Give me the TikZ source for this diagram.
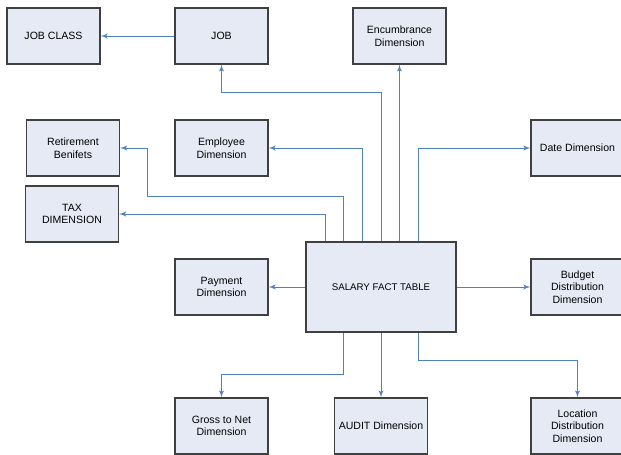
\documentclass[tikz,border=0pt]{standalone}
\usepackage{fontspec}
\setmainfont{Liberation Sans}
\usepackage{tikz}
\usetikzlibrary{arrows,shapes,calc}
\definecolor{boxfill}{RGB}{229,234,245}
\definecolor{boxline}{RGB}{64,64,64}
\definecolor{linkblue}{RGB}{79,129,189}
\begin{document}
\begin{tikzpicture}[x=0.025cm,y=-0.025cm]
	
	\tikzset{dimbox/.style = {shape=rectangle,draw=boxline,fill=boxfill,line width=0.9pt,minimum width=2.33cm,minimum height=1.4cm,inner sep=0pt,align=center,font=\fontsize{7.5}{9}\selectfont}}
	\tikzset{factbox/.style = {dimbox,minimum width=3.75cm,minimum height=2.25cm,font=\fontsize{6.9}{8}\selectfont}}
	\tikzset{edge/.style = {->,> = latex',draw=linkblue,line width=0.7pt}}
	
	\useasboundingbox (0,0) rectangle (621,455);
	
	\node[factbox] (fact) at (381,287) {SALARY FACT TABLE};
	\node[dimbox] (jobclass) at (53.5,36) {JOB CLASS};
	\node[dimbox] (job) at (221.5,36) {JOB};
	\node[dimbox] (enc) at (399.5,36) {Encumbrance\\Dimension};
	\node[dimbox] (ret) at (73,148) {Retirement\\Benifets};
	\node[dimbox] (emp) at (221.5,148) {Employee\\Dimension};
	\node[dimbox] (date) at (577.5,148) {Date Dimension};
	\node[dimbox] (tax) at (72,214) {TAX\\DIMENSION};
	\node[dimbox] (pay) at (221.5,287) {Payment\\Dimension};
	\node[dimbox] (bud) at (577.5,287) {Budget\\Distribution\\Dimension};
	\node[dimbox] (gross) at (221.5,426) {Gross to Net\\Dimension};
	\node[dimbox] (audit) at (381,426) {AUDIT Dimension};
	\node[dimbox] (loc) at (577.5,426) {Location\\Distribution\\Dimension};
	
	\draw[edge] (job) to (jobclass);
	\draw[edge] (fact.north) -- ++(0,-149) -| (job);
	\draw[edge] (fact.north -| enc) to (enc);
	\draw[edge] ($(fact.north)+(-19,0)$) |- (emp);
	\draw[edge] ($(fact.north)+(-38,0)$) |- (147,196) |- (ret);
	\draw[edge] ($(fact.north)+(-56,0)$) |- (tax);
	\draw[edge] ($(fact.north)+(37,0)$) |- (date);
	\draw[edge] (fact) to (pay);
	\draw[edge] (fact) to (bud);
	\draw[edge] ($(fact.south)+(-38,0)$) -- ++(0,42) -| (gross);
	\draw[edge] (fact) to (audit);
	\draw[edge] ($(fact.south)+(37,0)$) -- ++(0,28) -| (loc);
	\end{tikzpicture}
\end{document}
